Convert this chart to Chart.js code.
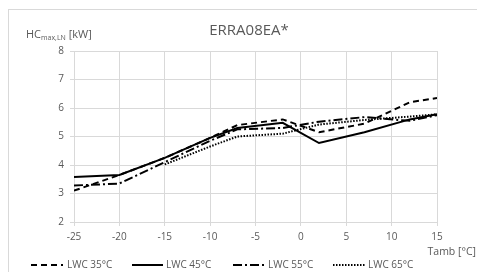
<!DOCTYPE html>
<html>
<head>
<meta charset="utf-8">
<script src="https://cdn.jsdelivr.net/npm/chart.js@4"></script>
<style>
html,body{margin:0;padding:0;background:#fff;}
#wrap{width:477px;height:272px;position:relative;}
</style>
</head>
<body>
<div id="wrap"><canvas id="c" width="477" height="272"></canvas></div>
<script>
const tamb = [-25, -20, -15, -10, -7, -2, 2, 7, 12, 15];
const lwc35 = [3.10, 3.65, 4.25, 4.95, 5.40, 5.60, 5.15, 5.45, 6.20, 6.35];
const lwc45 = [3.58, 3.65, 4.25, 4.95, 5.30, 5.48, 4.77, 5.15, 5.60, 5.78];
const lwc55 = [3.28, 3.35, 4.10, 4.85, 5.25, 5.30, 5.52, 5.68, 5.55, 5.75];
const lwc65 = [null, null, 4.02, 4.65, 5.00, 5.10, 5.42, 5.58, 5.70, 5.78];
const seriesNames = ['LWC 35°C', 'LWC 45°C', 'LWC 55°C', 'LWC 65°C'];
const chartTitle = 'ERRA08EA*';
const xTitle = 'Tamb [°C]';

const FONT = '"Open Sans", "Liberation Sans", sans-serif';
const GREY = '#595959';
const GRID = '#d9d9d9';

function pts(arr){ return tamb.map((x,i)=>({x:x, y:arr[i]})).filter(p=>p.y!==null); }

const styles = [
  {borderDash:[6,4], borderWidth:2},
  {borderDash:[], borderWidth:2},
  {borderDash:[9,3,2,3], borderWidth:2},
  {borderDash:[1.5,1.5], borderWidth:2}
];
const allSeries = [lwc35, lwc45, lwc55, lwc65];

const datasets = allSeries.map((s,i)=>({
  label: seriesNames[i],
  data: pts(s),
  borderColor:'#000',
  backgroundColor:'#000',
  borderWidth: styles[i].borderWidth,
  borderDash: styles[i].borderDash,
  pointRadius:0,
  tension:0,
  fill:false
}));

const decor = {
  id:'decor',
  beforeDraw(chart){
    const ctx = chart.ctx;
    ctx.save();
    ctx.fillStyle='#fff';
    ctx.fillRect(0,0,chart.width,chart.height);
    ctx.strokeStyle=GRID;
    ctx.lineWidth=1;
    ctx.strokeRect(8.5,9.5,600,400);
    ctx.restore();
  },
  afterDraw(chart){
    const ctx = chart.ctx;
    ctx.save();
    ctx.fillStyle=GREY;
    ctx.textBaseline='alphabetic';
    // title
    ctx.font='15px '+FONT;
    ctx.textAlign='center';
    ctx.fillText(chartTitle, 249, 35);
    // y title with subscript
    ctx.textAlign='left';
    let x=26;
    ctx.font='11px '+FONT;
    ctx.fillText('HC', x, 38); x+=ctx.measureText('HC').width;
    ctx.font='7px '+FONT;
    ctx.fillText('max,LN', x, 40); x+=ctx.measureText('max,LN').width;
    ctx.font='11px '+FONT;
    ctx.fillText(' [kW]', x, 38);
    // x title
    ctx.font='10.5px '+FONT;
    ctx.textAlign='right';
    ctx.fillText(xTitle, 476, 255);
    // legend
    const items=[{x0:31,x1:63,tx:67},{x0:132,x1:163,tx:166},{x0:233,x1:265,tx:268},{x0:333,x1:365,tx:368}];
    const ly=265;
    items.forEach((it,i)=>{
      ctx.save();
      ctx.strokeStyle='#000';
      ctx.lineWidth=styles[i].borderWidth;
      ctx.setLineDash(styles[i].borderDash);
      ctx.beginPath();
      ctx.moveTo(it.x0,ly);ctx.lineTo(it.x1,ly);ctx.stroke();
      ctx.restore();
      ctx.font='10px '+FONT;
      ctx.textAlign='left';
      ctx.textBaseline='middle';
      ctx.fillStyle=GREY;
      ctx.fillText(seriesNames[i], it.tx, ly);
    });
    ctx.restore();
  }
};

new Chart(document.getElementById('c'), {
  type:'line',
  data:{datasets},
  options:{
    responsive:false,
    animation:false,
    devicePixelRatio:1,
    layout:{padding:{left:0,right:40,top:51,bottom:0}},
    plugins:{legend:{display:false},title:{display:false},tooltip:{enabled:false}},
    scales:{
      x:{
        type:'linear', min:-25, max:15,
        ticks:{stepSize:5, color:GREY, font:{family:FONT,size:10}, padding:5, maxRotation:0},
        grid:{color:GRID, tickLength:4, lineWidth:1},
        border:{color:GRID},
        afterFit(s){ s.height=50; }
      },
      y:{
        min:2, max:8,
        ticks:{stepSize:1, color:GREY, font:{family:FONT,size:10}, padding:6},
        grid:{color:GRID, tickLength:4, lineWidth:1},
        border:{color:GRID},
        afterFit(s){ s.width=74; }
      }
    }
  },
  plugins:[decor]
});
</script>
</body>
</html>
